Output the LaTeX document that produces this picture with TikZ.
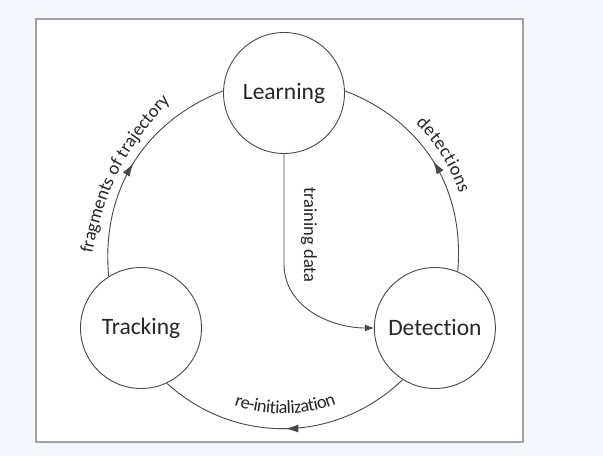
\documentclass[tikz,border=0pt]{standalone}
\usepackage{fontspec}
\setmainfont{Carlito}[Ligatures=CommonOff]
\usepackage{xcolor}
\usepackage{tikz}
\usetikzlibrary{positioning, arrows.meta, decorations.markings, decorations.text}

\definecolor{pagebg}{HTML}{F3F7FC}
\definecolor{framegray}{HTML}{A3A3A3}
\definecolor{linegray}{HTML}{484848}
\definecolor{textgray}{HTML}{262626}

\newcommand{\edgefont}{\fontsize{18.5}{20}\selectfont}

\begin{document}
\begin{tikzpicture}[
        x=1pt, y=1pt,
        font=\fontsize{23.5}{26}\selectfont,
        node distance=172pt,
        state/.style={circle, draw=linegray, line width=0.9pt, minimum size=121pt, inner sep=0pt, text=textgray},
        arrow/.style={draw=linegray, line width=0.9pt},
        midarrow/.style={postaction={decorate, decoration={markings,
            mark=at position 0.5 with {\arrow{Latex[length=13pt, width=8pt]}}}}},
        arclabel/.style={decorate, decoration={text along path, text align=center, text color=textgray, #1}}
    ]

    % Page and frame
    \fill[pagebg] (0,0) rectangle (603,456);
    \draw[framegray, line width=1.5pt, fill=white] (36,14) rectangle (523,437);

    % Nodes
    \node[state] (learn) at (284,363) {Learning};
    \node[state] (track) at (141,128) {Tracking};
    \node[state, right=of track] (det) {Detection};

    % Cycle arrows
    \draw[arrow, midarrow] (track.122) to[bend left=37] (learn.178);
    \draw[arrow, midarrow, postaction={arclabel={reverse path=true, raise=10pt, text={|\edgefont|detections}}}]
        (det.68) to[bend right=37] (learn.2);
    \draw[arrow, midarrow, postaction={arclabel={reverse path=true, raise=15pt, text={|\edgefont|re-initialization}}}]
        (det.238) to[bend left=43] (track.295);

    % label of the left arc sits on a flatter curve of its own
    \coordinate (fragA) at (92,201);
    \coordinate (fragB) at (171,356);
    \path[postaction={arclabel={text={|\edgefont|fragments of trajectory}}}] (fragA) to[bend left=16] (fragB);

    % Training data
    \draw[arrow, -{Latex[length=9pt, width=7pt]}] (learn.south) -- ++(0,-110) to[out=-90, in=180] (det.west);
    \node[font=\edgefont, text=textgray, rotate=-90] (train) at (309,221) {training data};

\end{tikzpicture}
\end{document}
